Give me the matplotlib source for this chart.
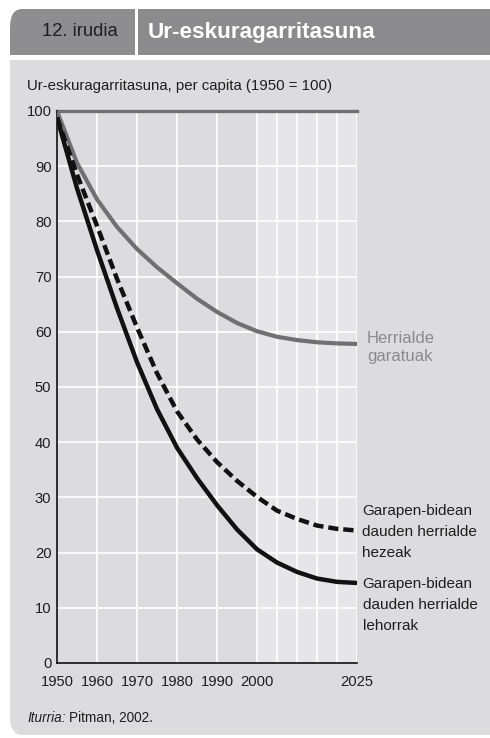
import matplotlib
matplotlib.use('Agg')
import matplotlib.pyplot as plt
from matplotlib.patches import FancyBboxPatch, Rectangle

plt.rcParams['font.family'] = ['Liberation Sans', 'DejaVu Sans']

# Datuak (irudiaren gainean irakurriak)
urteak = [1950, 1955, 1960, 1965, 1970, 1975, 1980, 1985, 1990,
          1995, 2000, 2005, 2010, 2015, 2020, 2025]
garatuak = [100, 90.6, 84, 79, 75, 71.7, 68.8, 66.0, 63.6,
            61.6, 60.1, 59.1, 58.5, 58.1, 57.9, 57.8]
hezeak = [98.8, 88.5, 79.2, 69.6, 60.8, 52.5, 45.6, 40.5, 36.4,
          33, 30.1, 27.6, 26.1, 24.9, 24.3, 24.0]
lehorrak = [98.8, 86, 74.8, 64.3, 54.5, 46, 39, 33.5, 28.6,
            24.2, 20.6, 18.2, 16.5, 15.3, 14.7, 14.5]

x_etiketak = [1950, 1960, 1970, 1980, 1990, 2000, 2025]
x_sareta = [1960, 1970, 1980, 1990, 2000, 2005, 2010, 2015, 2020, 2025]
y_tikak = [0, 10, 20, 30, 40, 50, 60, 70, 80, 90, 100]

W, H = 490, 738
fig = plt.figure(figsize=(W / 100, H / 100), dpi=100)
fig.patch.set_facecolor('white')

def px(x, y):
    return x / W, 1 - y / H

def laukia(x0, y0, x1, y1, kolorea):
    fig.patches.append(Rectangle(px(x0, y1), (x1 - x0) / W, (y1 - y0) / H,
                                 transform=fig.transFigure, fc=kolorea, ec='none'))

# Goiburua eta panela
fig.patches.append(FancyBboxPatch(px(10, 735), (W - 10) / W, (735 - 60) / H,
                                  boxstyle='round,pad=0,rounding_size=0.025',
                                  transform=fig.transFigure, fc='#dcdcde', ec='none'))
laukia(470, 700, 490, 735, '#dcdcde')
laukia(10, 60, 40, 90, '#dcdcde')
laukia(470, 60, 490, 90, '#dcdcde')
fig.patches.append(FancyBboxPatch(px(10, 55), 125 / W, 46 / H,
                                  boxstyle='round,pad=0,rounding_size=0.025',
                                  transform=fig.transFigure, fc='#8e8e90', ec='none'))
laukia(10, 33, 135, 55, '#8e8e90')
laukia(100, 9, 135, 55, '#8e8e90')
laukia(138, 9, 490, 55, '#8b8b8d')
fig.text(*px(80, 32), '12. irudia', fontsize=13.3, color='#1e1e1e', ha='center', va='center')
fig.text(*px(148, 38), 'Ur-eskuragarritasuna', fontsize=16.2, color='white',
         fontweight='bold', ha='left', va='baseline')
fig.text(*px(27, 90), 'Ur-eskuragarritasuna, per capita (1950 = 100)', fontsize=10.8,
         color='#1e1e1e', ha='left', va='baseline')

# Grafikoa
ax = fig.add_axes([57 / W, 1 - 663 / H, 300 / W, (663 - 111) / H])
ax.set_zorder(5)
ax.set_facecolor('#dcdcde')
ax.axvspan(2000, 2025, color='#e6e6e8', zorder=0, lw=0)
ax.set_xlim(1950, 2025)
ax.set_ylim(0, 100)
for xv in x_sareta:
    ax.axvline(xv, color='white', lw=1.2, zorder=1)
for yv in y_tikak[1:-1]:
    ax.axhline(yv, color='white', lw=1.2, zorder=1)
ax.axhline(100, color='#707072', lw=2.4, zorder=2, clip_on=False)

ax.plot(urteak, garatuak, color='#707072', lw=3.0, zorder=3,
        solid_capstyle='butt', solid_joinstyle='round')
ax.plot(urteak, hezeak, color='#111111', lw=3.2, zorder=4, linestyle=(0, (2.3, 1.1)))
ax.plot(urteak, lehorrak, color='#111111', lw=3.2, zorder=4,
        solid_capstyle='butt', solid_joinstyle='round')

for s in ['top', 'right']:
    ax.spines[s].set_visible(False)
for s in ['left', 'bottom']:
    ax.spines[s].set_color('#111111')
    ax.spines[s].set_linewidth(1.2)
ax.set_xticks(x_etiketak)
ax.set_xticklabels([str(v) for v in x_etiketak])
ax.set_yticks(y_tikak)
ax.set_yticklabels([str(v) for v in y_tikak])
ax.tick_params(length=0, labelsize=10.6, colors='#1e1e1e')
ax.tick_params(axis='x', pad=9)
ax.tick_params(axis='y', pad=4)

# Lerroen etiketak (azken lerroaren oinarrian kokatuak)
fig.text(*px(367, 361), 'Herrialde\ngaratuak', fontsize=12, color='#8a8a8c',
         ha='left', va='baseline', linespacing=1.24)
fig.text(*px(362, 557), 'Garapen-bidean\ndauden herrialde\nhezeak', fontsize=11,
         color='#1e1e1e', ha='left', va='baseline', linespacing=1.62)
fig.text(*px(362.5, 630), 'Garapen-bidean\ndauden herrialde\nlehorrak', fontsize=11,
         color='#1e1e1e', ha='left', va='baseline', linespacing=1.62)

t = fig.text(*px(27, 722), 'Iturria:', fontsize=9.8, style='italic', color='#1e1e1e',
             ha='left', va='baseline')
fig.canvas.draw()
bb = t.get_window_extent()
fig.text((bb.x1 + 3) / W, 1 - 722 / H, 'Pitman, 2002.', fontsize=9.8, color='#1e1e1e',
         ha='left', va='baseline')

fig.savefig('out.png', dpi=100, facecolor='white')
